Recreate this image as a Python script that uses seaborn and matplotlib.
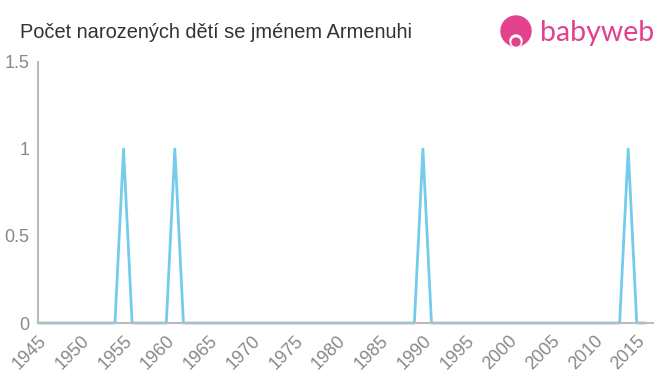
import matplotlib
matplotlib.use("Agg")
import matplotlib.pyplot as plt
import seaborn as sns
import pandas as pd
from matplotlib.patches import Circle

title = "Počet narozených dětí se jménem Armenuhi"
years = list(range(1945, 2017))
counts = [0, 0, 0, 0, 0, 0, 0, 0, 0, 0,   # 1945-1954
          1, 0, 0, 0, 0, 0, 1, 0, 0, 0,   # 1955-1964
          0, 0, 0, 0, 0, 0, 0, 0, 0, 0,   # 1965-1974
          0, 0, 0, 0, 0, 0, 0, 0, 0, 0,   # 1975-1984
          0, 0, 0, 0, 0, 1, 0, 0, 0, 0,   # 1985-1994
          0, 0, 0, 0, 0, 0, 0, 0, 0, 0,   # 1995-2004
          0, 0, 0, 0, 0, 0, 0, 0, 0, 1,   # 2005-2014
          0, 0]                           # 2015-2016
xticks = list(range(1945, 2016, 5))
yticks = [0, 0.5, 1, 1.5]
ytick_labels = ["0", "0.5", "1", "1.5"]

sns.set_theme(style="white")
plt.rcParams['font.family'] = ['Liberation Sans', 'DejaVu Sans']

df = pd.DataFrame({"year": years, "count": counts})

fig = plt.figure(figsize=(6.6, 3.75), dpi=100)
ax = fig.add_axes([38/660, 1 - 323/375, (653-38)/660, (323-62)/375])

sns.lineplot(data=df, x="year", y="count", ax=ax, color="#74CBEC", linewidth=2, clip_on=False)

ax.set_xlim(1945, 2016.9)
ax.set_ylim(0, 1.5)
ax.set_xticks(xticks)
ax.set_xticklabels([str(x) for x in xticks], rotation=45, ha="right", rotation_mode="anchor")
ax.set_yticks(yticks)
ax.set_yticklabels(ytick_labels)
ax.set_xlabel("")
ax.set_ylabel("")

for s in ["top", "right"]:
    ax.spines[s].set_visible(False)
for s in ["left", "bottom"]:
    ax.spines[s].set_color("#bbbbbb")
    ax.spines[s].set_linewidth(1.5)
ax.tick_params(axis="both", colors="#bbbbbb", length=5, width=1.5, labelcolor="#888888", labelsize=13, direction="out")
ax.tick_params(axis="x", pad=2)
ax.tick_params(axis="y", pad=1)

fig.text(20/660, 1 - 33/375, title, fontsize=14.4, color="#333333", va="center", ha="left")

# logo
pink = "#e2418b"
logo_ax = fig.add_axes([0, 0, 1, 1], facecolor="none")
logo_ax.set_xlim(0, 660)
logo_ax.set_ylim(375, 0)
logo_ax.axis("off")
logo_ax.add_patch(Circle((516, 31), 15, color=pink))
logo_ax.add_patch(Circle((516, 41), 6, color="white"))
logo_ax.add_patch(Circle((516, 42), 4, color=pink))
logo_ax.text(540, 33, "babyweb", color=pink, fontsize=20.5, va="center", ha="left", family=["Lato", "DejaVu Sans"])

fig.savefig("out.png", dpi=100)
